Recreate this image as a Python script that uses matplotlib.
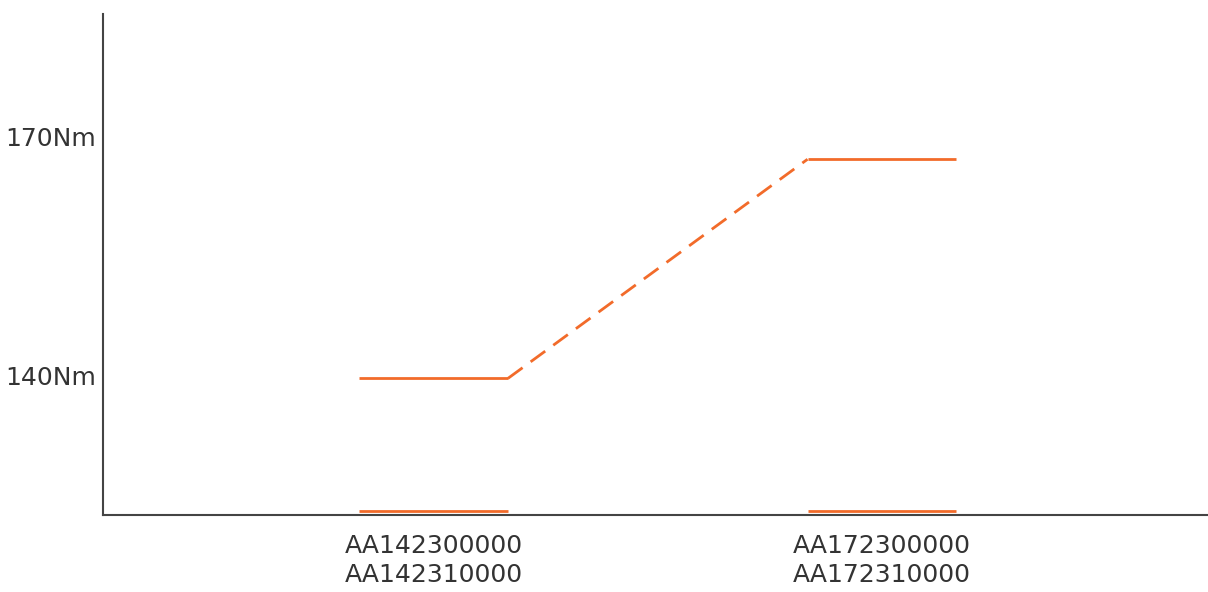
import matplotlib.pyplot as plt

# part numbers (two per category) and torque levels
categories = ["AA142300000\nAA142310000", "AA172300000\nAA172310000"]
torque_nm = [139.7, 167.2]
base_nm = [123.0, 123.0]
ytick_values = [140, 170]
ytick_labels = ["140Nm", "170Nm"]

orange = "#F26B2A"
half = 0.166

fig = plt.figure(figsize=(12.08, 5.92), dpi=100)
ax = fig.add_axes([0.0853, 0.130, 0.9147, 0.846])

xs = range(len(categories))
for x, v, b in zip(xs, torque_nm, base_nm):
    ax.plot([x - half, x + half], [v, v], color=orange, lw=2.0, solid_capstyle="butt")
    ax.plot([x - half, x + half], [b, b], color=orange, lw=2.0, solid_capstyle="butt")

# dashed connector between the two levels
ax.plot([0 + half, 1 - half], [torque_nm[0], torque_nm[1]], color=orange, lw=2.0,
        dashes=(6.5, 3.6), dash_capstyle="butt")

ax.set_xlim(-0.737, 1.727)
ax.set_ylim(122.55, 185.4)
ax.set_xticks(list(xs))
ax.set_xticklabels(categories, fontsize=18, color="#333333", linespacing=1.25)
ax.set_yticks(ytick_values)
ax.set_yticklabels(ytick_labels, fontsize=18, color="#333333")
ax.tick_params(axis="x", length=0, pad=14)
ax.tick_params(axis="y", length=0, pad=5)

for side in ["top", "right"]:
    ax.spines[side].set_visible(False)
for side in ["left", "bottom"]:
    ax.spines[side].set_color("#444444")
    ax.spines[side].set_linewidth(1.5)

fig.savefig("out.png", dpi=100)
